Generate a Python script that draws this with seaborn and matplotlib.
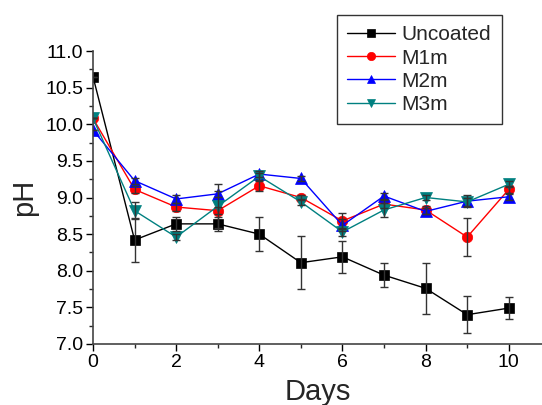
import numpy as np
import pandas as pd
import matplotlib
matplotlib.use("Agg")
import matplotlib.pyplot as plt
import seaborn as sns
from matplotlib.ticker import MultipleLocator

days = [0, 1, 2, 3, 4, 5, 6, 7, 8, 9, 10]
uncoated = [10.65, 8.42, 8.64, 8.64, 8.50, 8.11, 8.19, 7.94, 7.76, 7.40, 7.49]
uncoated_err = [0.0, 0.30, 0.10, 0.10, 0.23, 0.36, 0.22, 0.16, 0.35, 0.25, 0.15]
m1m = [10.08, 9.11, 8.87, 8.82, 9.16, 9.00, 8.68, 8.91, 8.83, 8.46, 9.11]
m1m_err = [0.0, 0.05, 0.05, 0.05, 0.07, 0.04, 0.11, 0.05, 0.05, 0.26, 0.05]
m2m = [9.92, 9.23, 8.98, 9.05, 9.32, 9.26, 8.62, 9.02, 8.81, 8.95, 9.01]
m2m_err = [0.0, 0.04, 0.05, 0.04, 0.04, 0.04, 0.08, 0.04, 0.04, 0.08, 0.04]
m3m = [10.08, 8.82, 8.46, 8.88, 9.29, 8.94, 8.53, 8.83, 9.00, 8.94, 9.18]
m3m_err = [0.0, 0.12, 0.04, 0.30, 0.05, 0.04, 0.05, 0.10, 0.03, 0.05, 0.04]

names = ["Uncoated", "M1m", "M2m", "M3m"]
values = [uncoated, m1m, m2m, m3m]
errors = [uncoated_err, m1m_err, m2m_err, m3m_err]
colors = ["#000000", "#ff0000", "#0000ff", "#008080"]
markers = ["s", "o", "^", "v"]
msizes = [6.8, 7.5, 8, 8]

sns.set_style("ticks")
plt.rcParams["font.family"] = ["Liberation Sans", "DejaVu Sans"]

fig = plt.figure(figsize=(5.42, 4.05), dpi=100)
ax = fig.add_axes([93 / 542, 61 / 405, 449 / 542, 293 / 405])

for name, vals, col, mk, ms in zip(names, values, colors, markers, msizes):
    df = pd.DataFrame({"Days": days, "pH": vals})
    sns.lineplot(data=df, x="Days", y="pH", ax=ax, color=col, marker=mk,
                 markersize=ms, markeredgecolor=col, markeredgewidth=0.5,
                 linewidth=1.0, label=name, zorder=2)

for ln in ax.lines:
    ln.set_clip_on(True)
    ln.set_clip_path(ax.patch)

for vals, err in zip(values, errors):
    ax.errorbar(days, vals, yerr=err, fmt="none", ecolor="#333333",
                elinewidth=1.0, capsize=3, capthick=1.0, zorder=3)

ax.set_xlim(0, 10.8)
ax.set_ylim(7.0, 11.0)
ax.xaxis.set_major_locator(MultipleLocator(2))
ax.xaxis.set_minor_locator(MultipleLocator(1))
ax.yaxis.set_major_locator(MultipleLocator(0.5))
ax.yaxis.set_minor_locator(MultipleLocator(0.25))
ax.yaxis.set_major_formatter(matplotlib.ticker.FormatStrFormatter("%.1f"))
ax.tick_params(axis="both", which="major", direction="out", length=5, width=1,
               labelsize=14, colors="#000000", pad=2)
ax.tick_params(axis="both", which="minor", direction="out", length=3, width=1)

for s in ["top", "right"]:
    ax.spines[s].set_visible(False)
for s in ["left", "bottom"]:
    ax.spines[s].set_linewidth(1.2)
    ax.spines[s].set_color("#444444")

ax.set_xlabel("Days", fontsize=21, labelpad=5)
ax.set_ylabel("pH", fontsize=21, labelpad=5)

handles, labels = ax.get_legend_handles_labels()
ax.get_legend().remove()
leg = fig.legend(handles, labels, loc="upper left",
                 bbox_to_anchor=(337 / 542, 1 - 15 / 405),
                 bbox_transform=fig.transFigure, fontsize=15,
                 frameon=True, fancybox=False, edgecolor="#000000",
                 handlelength=2.3, handletextpad=0.3, labelspacing=0.2,
                 borderpad=0.5, borderaxespad=0)
leg.get_frame().set_linewidth(1.0)
for h in leg.legend_handles:
    h.set_markersize(6)

fig.savefig("out.png", dpi=100)
